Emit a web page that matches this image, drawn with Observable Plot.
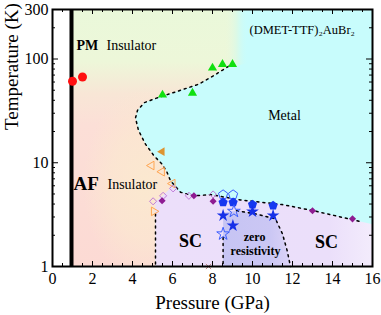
<!DOCTYPE html>
<html>
<head>
<meta charset="utf-8">
<script src="https://cdn.jsdelivr.net/npm/d3@7"></script>
<script src="https://cdn.jsdelivr.net/npm/@observablehq/plot@0.6"></script>
<style>
  body { margin: 0; background: white; }
</style>
</head>
<body>
<div id="chart"></div>
<script>
// ---------- data (pressure in GPa, temperature in K) ----------
const xDomain = [0, 16];
const yDomain = [1, 300];
const xMajorTicks = [0, 2, 4, 6, 8, 10, 12, 14, 16];
const yTickLabels = [1, 10, 100, 300];
const yMajorTicks = [1, 10, 100];
const yMinorTicks = [2, 3, 4, 5, 6, 7, 8, 9, 20, 30, 40, 50, 60, 70, 80, 90, 200];
const xMinorTicks = d3.range(0.5, 16, 0.5).filter(v => v % 2 !== 0);

const pmAfLine = [0.95];

const redCircles = [[1.0, 61], [1.5, 67]];
const greenTriangles = [[5.5, 45], [7.0, 47], [8.0, 82], [8.5, 89], [9.0, 89]];
const orangeFilledLeft = [[5.48, 12.8]];
const orangeOpenLeft = [[4.95, 9.4], [5.47, 8.2], [6.0, 6.3]];
const orangeOpenRight = [[5.07, 3.4]];
const purpleOpenDiamonds = [[5.03, 4.25], [5.53, 4.8], [6.03, 5.66], [6.82, 4.8], [8.03, 4.95]];
const purpleFilledDiamonds = [[5.48, 4.3], [7.07, 4.8], [8.03, 4.25], [13.0, 3.45], [15.0, 2.88]];
const blueOpenPentagons = [[8.53, 4.92], [9.03, 4.92]];
const blueFilledPentagons = [[8.53, 4.15], [9.03, 4.15], [10.0, 3.95], [11.03, 3.86]];
const blueFilledStars = [[8.53, 3.1], [9.02, 2.48], [10.0, 3.38], [11.03, 3.1]];
const blueOpenStars = [[9.07, 3.4], [8.53, 2.06]];
const crossPoints = [[7.8, 1.0]];

// phase boundaries (dotted lines)
const metalBoundary = [[8.8, 85], [8.0, 68], [7.3, 57], [6.2, 48.5], [5.2, 42], [4.6, 38], [4.25, 32],
  [4.15, 27], [4.3, 20.5], [4.65, 15.1], [5.07, 11.7], [5.48, 9.7], [5.73, 8.07], [5.9, 6.7],
  [6.4, 5.2], [7.07, 4.8], [7.9, 4.93], [9.4, 4.38], [11.5, 3.95], [13.05, 3.45], [15.5, 2.68]];
const scLeftLine = [[5.15, 3.2], [5.15, 1]];
const zrLeftLine = [[8.53, 1.9], [8.53, 1]];
const zrRightLine = [[9.2, 3.45], [10.2, 3.2], [11.15, 2.88], [11.5, 2.06], [11.73, 1.43], [11.9, 1]];

// coloured phase regions
const leftStrip = [[0, 1], [0, 300], [0.95, 300], [0.95, 1]];
const insulatorRegion = [[0.95, 300], [9.2, 300], [9.2, 90], ...metalBoundary.slice(0, 14),
  [6.0, 5.9], [5.6, 5.0], [5.15, 4.2], [5.15, 1], [0.95, 1]];
const pmEdgeRegion = [[8.6, 300], [9.8, 300], [9.8, 92], [8.6, 80]];
const scRegion = [[5.15, 1], [5.15, 4.2], [5.6, 5.0], [6.0, 5.9], [6.4, 5.2], [7.07, 4.8], [7.9, 4.93],
  [9.4, 4.38], [11.5, 3.95], [13.05, 3.45], [15.5, 2.68], [16, 2.55], [16, 1]];
const zrRegion = [[8.53, 1], [8.53, 3.3], [9.2, 3.45], [10.2, 3.2], [11.15, 2.88], [11.5, 2.06], [11.73, 1.43], [11.9, 1]];

// text labels
const boldLabels = [
  {text: "PM", p: 1.2, T: 136, size: 14, anchor: "start"},
  {text: "AF", p: 1.05, T: 6.3, size: 19, anchor: "start"},
  {text: "SC", p: 6.9, T: 1.76, size: 18, anchor: "middle"},
  {text: "SC", p: 13.7, T: 1.7, size: 18, anchor: "middle"},
  {text: "zero", p: 10.1, T: 1.9, size: 12, anchor: "middle"},
  {text: "resistivity", p: 10.15, T: 1.42, size: 12, anchor: "middle"}
];
const plainLabels = [
  {text: "Insulator", p: 2.7, T: 136, size: 14, anchor: "start"},
  {text: "Insulator", p: 2.75, T: 6.15, size: 14, anchor: "start"},
  {text: "Metal", p: 11.6, T: 28.3, size: 14, anchor: "middle"},
  {text: "(DMET-TTF)\u2082AuBr\u2082", p: 9.85, T: 190, size: 12.5, anchor: "start"}
];

// ---------- symbols ----------
function polySymbol(angles, areaFactor) {
  return {
    draw(ctx, size) {
      const R = Math.sqrt(size / areaFactor);
      angles.forEach((a, i) => {
        const x = R * Math.cos(a), y = R * Math.sin(a);
        if (i) ctx.lineTo(x, y); else ctx.moveTo(x, y);
      });
      ctx.closePath();
    }
  };
}
const deg = Math.PI / 180;
const triArea = 3 * Math.sqrt(3) / 4;
const triLeft = polySymbol([180 * deg, 60 * deg, -60 * deg], triArea);
const triRight = polySymbol([0, 120 * deg, 240 * deg], triArea);
const triUp = polySymbol([-90 * deg, 30 * deg, 150 * deg], triArea);
const pentagon = polySymbol([0, 1, 2, 3, 4].map(i => -90 * deg + i * 72 * deg), 2.3776);

const X = d => d[0], Y = d => d[1];
const serif = "'Liberation Serif', 'Times New Roman', serif";
const frameH = 315 - 9 - 49;
const dotted = {x: X, y: Y, stroke: "black", strokeWidth: 1.5, strokeDasharray: "2,4"};

const svg = Plot.plot({
  width: 381,
  height: 315,
  marginLeft: 52,
  marginRight: 9,
  marginTop: 9,
  marginBottom: 49,
  style: {fontFamily: serif, background: "white", color: "black"},
  x: {domain: xDomain},
  y: {type: "log", domain: yDomain},
  marks: [
    Plot.frame({fill: "#c8fcfc", stroke: null}),
    Plot.line(leftStrip, {x: X, y: Y, fill: "white", stroke: "none"}),
    Plot.line(insulatorRegion, {x: X, y: Y, fill: "url(#gInsul)", stroke: "none"}),
    Plot.line(insulatorRegion, {x: X, y: Y, fill: "url(#gPeach)", stroke: "none"}),
    Plot.line(pmEdgeRegion, {x: X, y: Y, fill: "url(#gEdge)", stroke: "none"}),
    Plot.line(scRegion, {x: X, y: Y, fill: "url(#gSC)", stroke: "none"}),
    Plot.line(zrRegion, {x: X, y: Y, fill: "url(#gZR)", stroke: "none"}),

    Plot.line(metalBoundary, dotted),
    Plot.line(scLeftLine, dotted),
    Plot.line(zrLeftLine, dotted),
    Plot.line(zrRightLine, dotted),

    Plot.ruleX(pmAfLine, {stroke: "black", strokeWidth: 4}),

    // ticks (inward)
    Plot.tickX(xMajorTicks, {x: d => d, insetTop: frameH - 5, stroke: "black"}),
    Plot.tickX(xMinorTicks, {x: d => d, insetTop: frameH - 3, stroke: "black"}),
    Plot.tickX(xMajorTicks, {x: d => d, insetBottom: frameH - 5, stroke: "black"}),
    Plot.tickX(xMinorTicks, {x: d => d, insetBottom: frameH - 3, stroke: "black"}),
    Plot.tickY(yMajorTicks, {y: d => d, insetRight: 320 - 6, stroke: "black"}),
    Plot.tickY(yMinorTicks, {y: d => d, insetRight: 320 - 3, stroke: "black"}),
    Plot.tickY(yMajorTicks, {y: d => d, insetLeft: 320 - 6, stroke: "black"}),
    Plot.tickY(yMinorTicks, {y: d => d, insetLeft: 320 - 3, stroke: "black"}),

    // markers
    Plot.dot(redCircles, {x: X, y: Y, r: 4.5, fill: "#ff1010", stroke: "none"}),
    Plot.dot(greenTriangles, {x: X, y: Y, r: 3.4, symbol: triUp, fill: "#10e010", stroke: "none"}),
    Plot.dot(orangeFilledLeft, {x: X, y: Y, r: 3.2, symbol: triLeft, fill: "#dd9430", stroke: "none"}),
    Plot.dot(orangeOpenLeft, {x: X, y: Y, r: 3.2, symbol: triLeft, fill: "none", stroke: "#ffa550", strokeWidth: 1}),
    Plot.dot(orangeOpenRight, {x: X, y: Y, r: 3.2, symbol: triRight, fill: "none", stroke: "#ffa550", strokeWidth: 1}),
    Plot.dot(purpleOpenDiamonds, {x: X, y: Y, r: 3.2, symbol: "diamond2", fill: "none", stroke: "#c07ad8", strokeWidth: 1}),
    Plot.dot(purpleFilledDiamonds, {x: X, y: Y, r: 3.2, symbol: "diamond2", fill: "#8e1c92", stroke: "none"}),
    Plot.dot(blueOpenPentagons, {x: X, y: Y, r: 4.2, symbol: pentagon, fill: "none", stroke: "#3a5cff", strokeWidth: 1}),
    Plot.dot(blueFilledPentagons, {x: X, y: Y, r: 4.2, symbol: pentagon, fill: "#1638f0", stroke: "none"}),
    Plot.dot(blueFilledStars, {x: X, y: Y, r: 4, symbol: "star", fill: "#1630e8", stroke: "none"}),
    Plot.dot(blueOpenStars, {x: X, y: Y, r: 4, symbol: "star", fill: "none", stroke: "#3a5cff", strokeWidth: 1}),
    Plot.dot(crossPoints, {x: X, y: Y, r: 2.5, symbol: "times", fill: "none", stroke: "#c08888", strokeWidth: 1}),

    // labels
    Plot.text(boldLabels, {x: "p", y: "T", text: "text", fontSize: d => d.size, textAnchor: "start",
      filter: d => d.anchor === "start", fontWeight: "bold", fill: "black"}),
    Plot.text(boldLabels, {x: "p", y: "T", text: "text", fontSize: d => d.size, textAnchor: "middle",
      filter: d => d.anchor === "middle", fontWeight: "bold", fill: "black"}),
    Plot.text(plainLabels, {x: "p", y: "T", text: "text", fontSize: d => d.size, textAnchor: "start",
      filter: d => d.anchor === "start", fill: "black"}),
    Plot.text(plainLabels, {x: "p", y: "T", text: "text", fontSize: d => d.size, textAnchor: "middle",
      filter: d => d.anchor === "middle", fill: "black"}),

    // axes
    Plot.axisX({anchor: "bottom", ticks: xMajorTicks, tickSize: 0, tickPadding: 6, fontSize: 16, label: null}),
    Plot.axisY({anchor: "left", ticks: yTickLabels, tickSize: 0, tickPadding: 4, fontSize: 16, label: null,
      tickFormat: d => String(d)}),
    Plot.text(["Pressure (GPa)"], {text: d => d, frameAnchor: "bottom", dy: 36, fontSize: 19, lineAnchor: "middle", fill: "black"}),
    Plot.text(["Temperature (K)"], {text: d => d, frameAnchor: "left", dx: -41, dy: -8, rotate: -90, fontSize: 19, lineAnchor: "middle", fill: "black"}),

    Plot.frame({stroke: "black", strokeWidth: 2})
  ]
});

// gradients
const defs = d3.select(svg).insert("defs", ":first-child");
function linear(id, x2, y2, stops) {
  const g = defs.append("linearGradient").attr("id", id)
    .attr("x1", 0).attr("y1", 0).attr("x2", x2).attr("y2", y2);
  stops.forEach(([o, c, a = 1]) => g.append("stop").attr("offset", o).attr("stop-color", c).attr("stop-opacity", a));
}
linear("gInsul", 0, 1, [[0, "#eaf8da"], [0.2, "#edf7d9"], [0.33, "#f8e6d6"], [0.45, "#fcdfd7"], [1, "#fcdad4"]]);
linear("gEdge", 1, 0, [[0, "#ecf8dc", 0], [0.5, "#dcf9e6", 1], [1, "#c8fcfc", 0]]);
linear("gSC", 1, 0, [[0, "#ecdffa"], [0.8, "#ebdffa"], [1, "#f3ecfc"]]);
linear("gZR", 1, 0, [[0, "#c6c4f3"], [0.7, "#cbc7f4"], [1, "#dcd3f7"]]);
const rg = defs.append("radialGradient").attr("id", "gPeach")
  .attr("cx", 0.45).attr("cy", 0.68).attr("r", 0.38);
[[0, "#fbe9cf", 0.95], [0.55, "#fbe8d0", 0.7], [1, "#fbe8d0", 0]].forEach(([o, c, a]) =>
  rg.append("stop").attr("offset", o).attr("stop-color", c).attr("stop-opacity", a));

document.getElementById("chart").appendChild(svg);
</script>
</body>
</html>
